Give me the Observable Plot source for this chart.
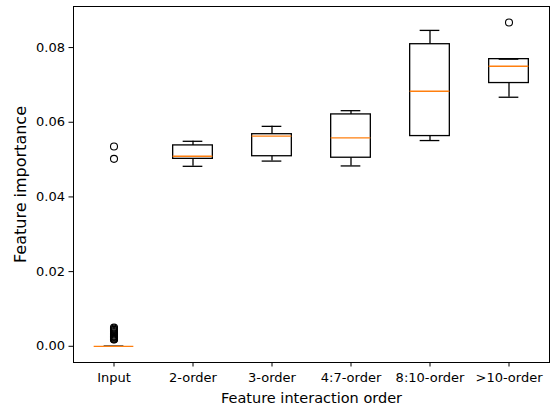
<!DOCTYPE html>
<html><head><meta charset="utf-8">
<script src="https://cdn.jsdelivr.net/npm/d3@7"></script>
<script src="https://cdn.jsdelivr.net/npm/@observablehq/plot@0.6"></script>
<style>body{margin:0;background:#fff}</style>
</head><body><div id="chart"></div>
<script>
const categories = ["Input", "2-order", "3-order", "4:7-order", "8:10-order", ">10-order"];
const whiskerLow  = [0, 0.0482, 0.0496, 0.0483, 0.0551, 0.0667];
const q1          = [0, 0.0502, 0.0509, 0.0505, 0.0563, 0.0705];
const median      = [0, 0.0509, 0.0563, 0.0558, 0.0683, 0.0750];
const q3          = [0, 0.0538, 0.0568, 0.0621, 0.0809, 0.0769];
const whiskerHigh = [0, 0.0549, 0.0589, 0.0631, 0.0846, 0.0769];
const outlierCategory = ["Input","Input","Input","Input","Input","Input","Input","Input","Input","Input","Input","Input","Input","Input","Input","Input",">10-order"];
const outlierValue    = [0.0535, 0.0502, 0.0050, 0.0047, 0.0044, 0.0041, 0.0038, 0.0035, 0.0032, 0.0029, 0.0027, 0.0025, 0.0023, 0.0021, 0.0019, 0.0018, 0.0867];
const yTicks = [0, 0.02, 0.04, 0.06, 0.08];
const xLabel = "Feature interaction order";
const yLabel = "Feature importance";

const W = 550, H = 406;
const mL = 73, mR = 1, mT = 6, mB = 44;
const bw = (W - mL - mR) / categories.length;
const boxInset = (bw - 40) / 2;
const capInset = (bw - 20) / 2;
const stats = categories.map((c, i) => ({cat: c, lo: whiskerLow[i], q1: q1[i], med: median[i], q3: q3[i], hi: whiskerHigh[i]}));
const outliers = outlierCategory.map((c, i) => ({cat: c, v: outlierValue[i]}));
const sw = 1.3;

const chart = Plot.plot({
  width: W, height: H,
  marginLeft: mL, marginRight: mR, marginTop: mT, marginBottom: mB,
  style: {fontFamily: "DejaVu Sans", fontSize: "13px", color: "black", background: "white"},
  x: {domain: categories, padding: 0, label: xLabel, labelAnchor: "center", labelOffset: 40, tickSize: 4.5, tickPadding: 6, labelArrow: "none"},
  y: {domain: [-0.00434, 0.0910], ticks: yTicks, tickFormat: d3.format(".2f"), label: yLabel, labelAnchor: "center", labelOffset: 59, tickSize: 4.5, tickPadding: 4, labelArrow: "none"},
  marks: [
    Plot.ruleX(stats, {x: "cat", y1: "lo", y2: "q1", stroke: "black", strokeWidth: sw}),
    Plot.ruleX(stats, {x: "cat", y1: "q3", y2: "hi", stroke: "black", strokeWidth: sw}),
    Plot.tickY(stats, {x: "cat", y: "lo", insetLeft: capInset, insetRight: capInset, stroke: "black", strokeWidth: sw}),
    Plot.tickY(stats, {x: "cat", y: "hi", insetLeft: capInset, insetRight: capInset, stroke: "black", strokeWidth: sw}),
    Plot.barY(stats, {x: "cat", y1: "q1", y2: "q3", fill: "none", stroke: "black", strokeWidth: sw, insetLeft: boxInset, insetRight: boxInset}),
    Plot.tickY(stats, {x: "cat", y: "med", insetLeft: boxInset, insetRight: boxInset, stroke: "#ff7f0e", strokeWidth: sw}),
    Plot.dot(outliers, {x: "cat", y: "v", r: 3.5, stroke: "black", fill: "none", strokeWidth: 1.1}),
    Plot.frame({stroke: "black", strokeWidth: 1})
  ]
});
chart.querySelectorAll('[aria-label="x-axis label"]').forEach(g => g.style.fontSize = "14.5px");
chart.querySelectorAll('[aria-label="y-axis label"]').forEach(g => g.style.fontSize = "16px");
document.getElementById("chart").appendChild(chart);
</script>
</body></html>
